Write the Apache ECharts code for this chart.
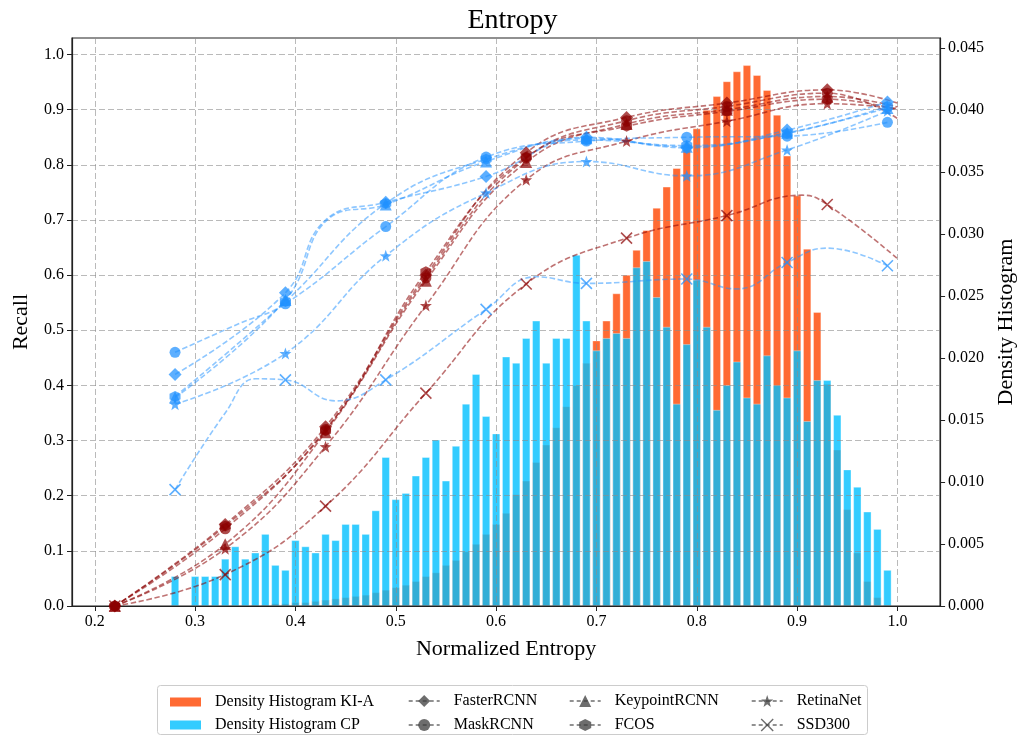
<!DOCTYPE html>
<html>
<head>
<meta charset="utf-8">
<script src="https://cdn.jsdelivr.net/npm/echarts@6/dist/echarts.min.js"></script>
<style>
  html, body { margin: 0; padding: 0; background: #ffffff; }
  #chart { width: 1025px; height: 738px; }
</style>
</head>
<body>
<div id="chart"></div>
<script>
// Histogram bin centres (normalized entropy)
const binCenters = [
  0.28, 0.29, 0.30, 0.31, 0.32, 0.33, 0.34, 0.35, 0.36, 0.37,
  0.38, 0.39, 0.40, 0.41, 0.42, 0.43, 0.44, 0.45, 0.46, 0.47,
  0.48, 0.49, 0.50, 0.51, 0.52, 0.53, 0.54, 0.55, 0.56, 0.57,
  0.58, 0.59, 0.60, 0.61, 0.62, 0.63, 0.64, 0.65, 0.66, 0.67,
  0.68, 0.69, 0.70, 0.71, 0.72, 0.73, 0.74, 0.75, 0.76, 0.77,
  0.78, 0.79, 0.80, 0.81, 0.82, 0.83, 0.84, 0.85, 0.86, 0.87,
  0.88, 0.89, 0.90, 0.91, 0.92, 0.93, 0.94, 0.95, 0.96, 0.97,
  0.98, 0.99
];

// Density histogram, KI-A
const histKIA = [
  0, 0, 0, 0, 0, 0, 0, 0, 0.0001, 0.0001,
  0.0002, 0.0002, 0.0003, 0.0003, 0.0004, 0.0005, 0.0006, 0.0007, 0.0008, 0.0009,
  0.0011, 0.0013, 0.0015, 0.0017, 0.0020, 0.0024, 0.0027, 0.0033, 0.0037, 0.0044,
  0.0050, 0.0058, 0.0066, 0.0075, 0.0090, 0.0101, 0.0116, 0.0130, 0.0144, 0.0161,
  0.0178, 0.0196, 0.0214, 0.0230, 0.0252, 0.0267, 0.0287, 0.0303, 0.0321, 0.0338,
  0.0353, 0.0368, 0.0385, 0.0400, 0.0411, 0.0423, 0.0431, 0.0436, 0.0428, 0.0416,
  0.0396, 0.0363, 0.0331, 0.0288, 0.0237, 0.0179, 0.0126, 0.0078, 0.0043, 0.0020,
  0.0007, 0.0001
];

// Density histogram, CP
const histCP = [
  0.0024, 0, 0.0024, 0.0024, 0.0024, 0.0038, 0.0048, 0.0038, 0.0043, 0.0058,
  0.0033, 0.0029, 0.0053, 0.0048, 0.0043, 0.0058, 0.0053, 0.0066, 0.0066, 0.0058,
  0.0077, 0.0120, 0.0086, 0.0091, 0.0105, 0.0120, 0.0134, 0.0101, 0.0129, 0.0163,
  0.0187, 0.0153, 0.0139, 0.0201, 0.0196, 0.0216, 0.0230, 0.0196, 0.0216, 0.0216,
  0.0283, 0.0230, 0.0206, 0.0216, 0.0220, 0.0216, 0.0273, 0.0278, 0.0249, 0.0225,
  0.0163, 0.0211, 0.0263, 0.0225, 0.0158, 0.0178, 0.0197, 0.0168, 0.0163, 0.0202,
  0.0178, 0.0168, 0.0206, 0.0149, 0.0182, 0.0182, 0.0154, 0.0110, 0.0096, 0.0076,
  0.0062, 0.0029
];

// Recall curves: sample positions
const kiaX = [0.22, 0.33, 0.43, 0.53, 0.63, 0.73, 0.83, 0.93];
const kiaTailX = 1.0;
const cpX = [0.28, 0.39, 0.49, 0.59, 0.69, 0.79, 0.89, 0.99];

const models = ['FasterRCNN', 'MaskRCNN', 'KeypointRCNN', 'FCOS', 'RetinaNet', 'SSD300'];

// KI-A recall per detector
const kiaFasterRCNN   = [0, 0.148, 0.325, 0.600, 0.822, 0.886, 0.912, 0.936];
const kiaMaskRCNN     = [0, 0.140, 0.320, 0.595, 0.812, 0.880, 0.906, 0.930];
const kiaKeypointRCNN = [0, 0.112, 0.315, 0.590, 0.805, 0.874, 0.900, 0.924];
const kiaFCOS         = [0, 0.145, 0.318, 0.606, 0.814, 0.870, 0.897, 0.919];
const kiaRetinaNet    = [0, 0.104, 0.289, 0.545, 0.773, 0.843, 0.879, 0.911];
const kiaSSD300       = [0, 0.057, 0.181, 0.386, 0.584, 0.667, 0.708, 0.728];
// KI-A recall at the right end of the curves (no marker)
const kiaTail = [0.912, 0.884, 0.905, 0.900, 0.902, 0.630];
// extra unmarked curve points for KI-A SSD300
const kiaSSD300Extra = [[0.905, 0.745]];

// CP recall per detector
const cpFasterRCNN   = [0.420, 0.568, 0.732, 0.779, 0.850, 0.831, 0.863, 0.914];
const cpMaskRCNN     = [0.460, 0.548, 0.688, 0.814, 0.843, 0.850, 0.852, 0.877];
const cpKeypointRCNN = [0.378, 0.555, 0.728, 0.806, 0.848, 0.833, 0.858, 0.903];
const cpFCOS         = [0.380, 0.552, 0.730, 0.810, 0.845, 0.835, 0.857, 0.906];
const cpRetinaNet    = [0.366, 0.458, 0.635, 0.749, 0.806, 0.780, 0.827, 0.898];
const cpSSD300       = [0.211, 0.410, 0.410, 0.538, 0.585, 0.593, 0.623, 0.617];
// extra unmarked curve points for CP curves
const cpFasterRCNNExtra = [[0.43, 0.700]];
const cpMaskRCNNExtra = [[0.345, 0.513]];
const cpKeypointRCNNExtra = [[0.435, 0.705]];
const cpSSD300Extra = [[0.33, 0.350], [0.36, 0.412], [0.44, 0.372], [0.64, 0.597], [0.84, 0.575], [0.93, 0.649]];

// Axis tick values
const xTicks = [0.2, 0.3, 0.4, 0.5, 0.6, 0.7, 0.8, 0.9, 1.0];
const recallTicks = [0, 0.1, 0.2, 0.3, 0.4, 0.5, 0.6, 0.7, 0.8, 0.9, 1.0];
const densityTicks = [0, 0.005, 0.010, 0.015, 0.020, 0.025, 0.030, 0.035, 0.040, 0.045];

const FONT = '"Liberation Serif", "Times New Roman", "DejaVu Serif", serif';

const xPath = 'path://M0,0L10,10M10,0L0,10';
const starPath = 'path://M5,0L6.18,3.38L9.76,3.45L6.9,5.62L7.94,9.05L5,7L2.06,9.05L3.1,5.62L0.24,3.45L3.82,3.38Z';
const hexPath = 'path://M5,0L9.33,2.5L9.33,7.5L5,10L0.67,7.5L0.67,2.5Z';
const modelSymbols = ['diamond', 'circle', 'triangle', hexPath, starPath, xPath];
const modelSizes = [13, 11, 12, 11, 12, 11];

const redLine = 'rgba(139,0,0,0.55)';
const redMark = 'rgba(139,0,0,0.7)';
const blueLine = 'rgba(30,144,255,0.5)';
const blueMark = 'rgba(30,144,255,0.72)';
const legendGray = 'rgba(60,60,60,0.75)';

function curveData(xs, ys, tail, extras) {
  const pts = xs.map((x, i) => ({ value: [x, ys[i]] }));
  if (tail) pts.push({ value: tail, symbol: 'none' });
  (extras || []).forEach(p => pts.push({ value: p, symbol: 'none' }));
  pts.sort((a, b) => a.value[0] - b.value[0]);
  return pts;
}

function curveSeries(name, idx, data, lineColor, markColor) {
  const isX = idx === 5;
  return {
    name: name,
    type: 'line',
    xAxisIndex: 0,
    yAxisIndex: 0,
    data: data,
    smooth: 0.45,
    symbol: modelSymbols[idx],
    symbolSize: modelSizes[idx],
    showAllSymbol: true,
    z: 5,
    lineStyle: { color: lineColor, width: 1.6, type: [5.5, 2.6] },
    itemStyle: isX
      ? { color: 'rgba(0,0,0,0)', borderColor: markColor, borderWidth: 1.6 }
      : { color: markColor, borderWidth: 0 },
    emphasis: { disabled: true }
  };
}

const kiaCurves = [kiaFasterRCNN, kiaMaskRCNN, kiaKeypointRCNN, kiaFCOS, kiaRetinaNet, kiaSSD300];
const cpCurves = [cpFasterRCNN, cpMaskRCNN, cpKeypointRCNN, cpFCOS, cpRetinaNet, cpSSD300];
const kiaExtras = [null, null, null, null, null, kiaSSD300Extra];
const cpExtras = [cpFasterRCNNExtra, cpMaskRCNNExtra, cpKeypointRCNNExtra, null, null, cpSSD300Extra];

const series = [
  {
    name: 'Density Histogram KI-A',
    type: 'bar',
    xAxisIndex: 0,
    yAxisIndex: 1,
    data: binCenters.map((x, i) => [x, histKIA[i]]),
    barWidth: 8,
    barGap: '-100%',
    z: -2,
    itemStyle: { color: 'rgba(255,69,0,0.8)', borderColor: 'rgba(255,255,255,0.6)', borderWidth: 0.6 },
    emphasis: { disabled: true }
  },
  {
    name: 'Density Histogram CP',
    type: 'bar',
    xAxisIndex: 0,
    yAxisIndex: 1,
    data: binCenters.map((x, i) => [x, histCP[i]]),
    barWidth: 8,
    barGap: '-100%',
    z: -1,
    itemStyle: { color: 'rgba(0,191,255,0.8)', borderColor: 'rgba(255,255,255,0.6)', borderWidth: 0.6 },
    emphasis: { disabled: true }
  }
];

models.forEach((m, i) => {
  series.push(curveSeries(m, i, curveData(kiaX, kiaCurves[i], [kiaTailX, kiaTail[i]], kiaExtras[i]), redLine, redMark));
});
models.forEach((m, i) => {
  series.push(curveSeries(m, i, curveData(cpX, cpCurves[i], null, cpExtras[i]), blueLine, blueMark));
});

function modelLegendItem(name, idx) {
  const isX = idx === 5;
  return {
    name: name,
    itemStyle: isX
      ? { color: 'rgba(0,0,0,0)', borderColor: legendGray, borderWidth: 1.4 }
      : { color: legendGray, borderWidth: 0 },
    lineStyle: { color: legendGray, width: 1.4, type: [4, 3] }
  };
}

const legendText = { fontFamily: FONT, fontSize: 16, color: '#000', padding: [0, 0, 0, 9] };
function legendBlock(left, items) {
  return {
    orient: 'vertical',
    left: left,
    top: 688,
    itemGap: 8,
    itemWidth: 31,
    itemHeight: 15,
    selectedMode: false,
    textStyle: legendText,
    data: items
  };
}

const option = {
  animation: false,
  backgroundColor: '#ffffff',
  title: {
    text: 'Entropy',
    left: 'center',
    top: 2,
    textStyle: { fontFamily: FONT, fontSize: 28, fontWeight: 'normal', color: '#000' }
  },
  grid: {
    left: 72, right: 78, top: 38, bottom: 132,
    show: true, borderColor: '#222', borderWidth: 1.2, backgroundColor: 'rgba(0,0,0,0)'
  },
  legend: [
    {
      orient: 'vertical', left: 165, top: 689, itemGap: 7, itemWidth: 31, itemHeight: 9,
      selectedMode: false, textStyle: legendText,
      data: [
        { name: 'Density Histogram KI-A', icon: 'rect', itemStyle: { color: 'rgba(255,69,0,0.8)', borderWidth: 0 } },
        { name: 'Density Histogram CP', icon: 'rect', itemStyle: { color: 'rgba(0,191,255,0.8)', borderWidth: 0 } }
      ]
    },
    legendBlock(403, [modelLegendItem('FasterRCNN', 0), modelLegendItem('MaskRCNN', 1)]),
    legendBlock(564, [modelLegendItem('KeypointRCNN', 2), modelLegendItem('FCOS', 3)]),
    legendBlock(746, [modelLegendItem('RetinaNet', 4), modelLegendItem('SSD300', 5)])
  ],
  graphic: [
    {
      type: 'rect',
      z: -10,
      shape: { x: 157.5, y: 685.5, width: 710, height: 49, r: 3 },
      style: { fill: '#ffffff', stroke: '#cccccc', lineWidth: 1 }
    }
  ],
  xAxis: {
    type: 'value',
    min: 0.1773,
    max: 1.0425,
    splitNumber: 9,
    name: 'Normalized Entropy',
    nameLocation: 'middle',
    nameGap: 32,
    nameTextStyle: { fontFamily: FONT, fontSize: 22, color: '#000' },
    axisLine: { show: true, onZero: false, lineStyle: { color: '#222', width: 1.2 } },
    axisTick: { show: true, inside: false, length: 5, customValues: xTicks, lineStyle: { color: '#222', width: 1 } },
    axisLabel: {
      customValues: xTicks, margin: 8,
      formatter: v => Number(v).toFixed(1),
      fontFamily: FONT, fontSize: 16, color: '#000'
    },
    splitLine: { show: true, lineStyle: { color: 'rgba(140,140,140,0.6)', width: 1, type: [6, 3] } }
  },
  yAxis: [
    {
      type: 'value',
      position: 'left',
      min: 0,
      max: 1.03,
      interval: 0.1,
      name: 'Recall',
      nameLocation: 'middle',
      nameRotate: 90,
      nameGap: 40,
      nameTextStyle: { fontFamily: FONT, fontSize: 22, color: '#000' },
      axisLine: { show: true, lineStyle: { color: '#222', width: 1.2 } },
      axisTick: { show: true, length: 5, customValues: recallTicks, lineStyle: { color: '#222', width: 1 } },
      axisLabel: {
        customValues: recallTicks, margin: 8,
        formatter: v => Number(v).toFixed(1),
        fontFamily: FONT, fontSize: 16, color: '#000'
      },
      splitLine: { show: true, lineStyle: { color: 'rgba(140,140,140,0.6)', width: 1, type: [6, 3] } }
    },
    {
      type: 'value',
      position: 'right',
      min: 0,
      max: 0.0458,
      interval: 0.005,
      name: 'Density Histogram',
      nameLocation: 'middle',
      nameRotate: 90,
      nameGap: 52,
      nameTextStyle: { fontFamily: FONT, fontSize: 22, color: '#000' },
      axisLine: { show: true, lineStyle: { color: '#222', width: 1.2 } },
      axisTick: { show: true, length: 5, customValues: densityTicks, lineStyle: { color: '#222', width: 1 } },
      axisLabel: {
        customValues: densityTicks, margin: 8,
        formatter: v => Number(v).toFixed(3),
        fontFamily: FONT, fontSize: 16, color: '#000'
      },
      splitLine: { show: false }
    }
  ],
  series: series
};

const chart = echarts.init(document.getElementById('chart'), null, { renderer: 'canvas' });
chart.setOption(option);
</script>
</body>
</html>
